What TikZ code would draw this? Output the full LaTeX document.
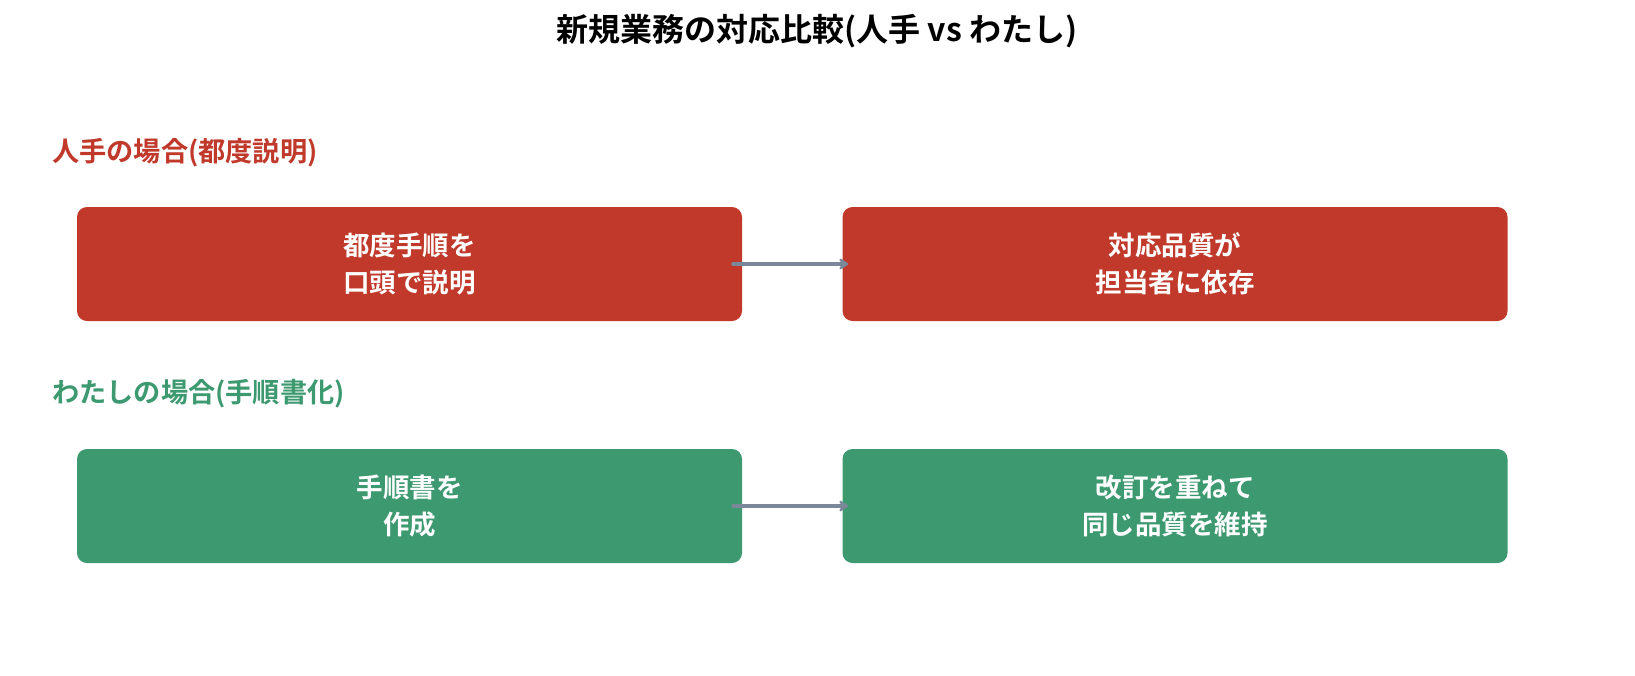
\documentclass[tikz,border=0pt]{standalone}
\usepackage{fontspec}
\setmainfont{Noto Sans CJK JP}[BoldFont={Noto Sans CJK JP Bold}]
\usetikzlibrary{arrows.meta}
\definecolor{hred}{HTML}{C0392B}
\definecolor{wgreen}{HTML}{3D9970}
\definecolor{arrowgray}{HTML}{7B8899}
\tikzset{
  card/.style={rounded corners=10pt, minimum width=665pt, minimum height=114pt, inner sep=0pt,
    text=white, font=\bfseries\fontsize{26.5}{37}\selectfont, align=center},
  redcard/.style={card, fill=hred},
  greencard/.style={card, fill=wgreen},
  heading/.style={anchor=west, inner sep=0pt, font=\bfseries\fontsize{27.2}{30}\selectfont},
  flow/.style={draw=arrowgray, line width=4pt, line cap=round, -{Stealth[length=11pt,width=14pt,round]}}
}
\begin{document}
\begin{tikzpicture}[x=1pt,y=-1pt]
\useasboundingbox[fill=white] (0,0) rectangle (1635,675);
\node[font=\bfseries\fontsize{32}{36}\selectfont, inner sep=0pt] (title) at (817,31) {新規業務の対応比較(人手 vs わたし)};
\node[heading, text=hred] (h1) at (52,153) {人手の場合(都度説明)};
\node[heading, text=wgreen] (h2) at (52,394) {わたしの場合(手順書化)};
\node[redcard] (b1) at (409.5,264) {都度手順を\\口頭で説明};
\node[redcard] (b2) at (1175,264) {対応品質が\\担当者に依存};
\node[greencard] (b3) at (409.5,506) {手順書を\\作成};
\node[greencard] (b4) at (1175,506) {改訂を重ねて\\同じ品質を維持};
\draw[flow] ([xshift=-9pt]b1.east) -- ([xshift=6pt]b2.west);
\draw[flow] ([xshift=-9pt]b3.east) -- ([xshift=6pt]b4.west);
\end{tikzpicture}
\end{document}
